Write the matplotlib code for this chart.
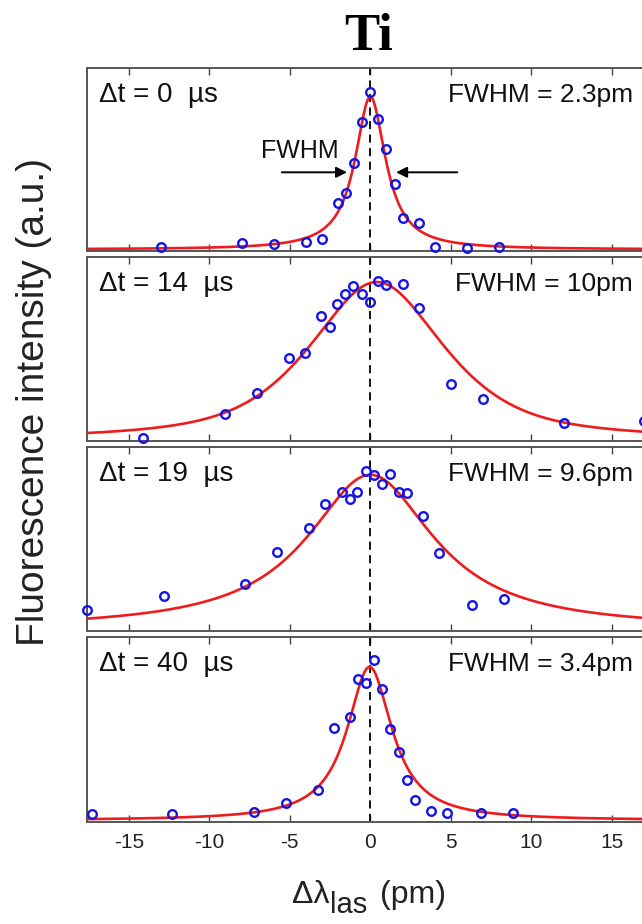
import numpy as np
import matplotlib
matplotlib.use("Agg")
import matplotlib.pyplot as plt

plt.rcParams['font.family'] = ['Liberation Sans', 'DejaVu Sans']

# ---- data ----
delays = ["0", "14", "19", "40"]
fwhm_labels = ["2.3", "10", "9.6", "3.4"]

p1_x = [-13, -8, -6, -4, -3, -2, -1.5, -1, -0.5, 0, 0.5, 1, 1.5, 2, 3, 4, 6, 8]
p1_y = [0.024, 0.042, 0.036, 0.049, 0.064, 0.264, 0.318, 0.482, 0.705, 0.869,
        0.724, 0.56, 0.367, 0.178, 0.151, 0.024, 0.018, 0.024]

p2_x = [-14.1, -9.05, -7.05, -5.05, -4.05, -3.05, -2.5, -2.05, -1.55, -1.05,
        -0.55, 0, 0.45, 1.0, 2.0, 3.0, 5.0, 7.0, 12.0, 17.0]
p2_y = [0.018, 0.145, 0.262, 0.45, 0.477, 0.678, 0.617, 0.745, 0.80, 0.841,
        0.80, 0.756, 0.868, 0.846, 0.854, 0.725, 0.311, 0.226, 0.099, 0.108]

p3_x = [-17.6, -12.8, -7.8, -5.8, -3.8, -2.8, -1.75, -1.25, -0.8, -0.25, 0.25,
        0.75, 1.25, 1.75, 2.25, 3.25, 4.25, 6.3, 8.3]
p3_y = [0.116, 0.189, 0.253, 0.431, 0.558, 0.691, 0.755, 0.716, 0.758, 0.871,
        0.849, 0.798, 0.855, 0.753, 0.749, 0.627, 0.422, 0.14, 0.176]

p4_x = [-17.3, -12.3, -7.25, -5.25, -3.25, -2.25, -1.25, -0.75, -0.25, 0.25,
        0.75, 1.25, 1.75, 2.25, 2.75, 3.75, 4.75, 6.85, 8.85]
p4_y = [0.045, 0.045, 0.054, 0.105, 0.175, 0.506, 0.566, 0.774, 0.754, 0.877,
        0.72, 0.503, 0.38, 0.226, 0.121, 0.058, 0.051, 0.049, 0.051]

# fitted line-shape parameters (centre, amplitude, offset, FWHM, Lorentz fraction)
fit_center = [0.0, 0.4, 0.0, -0.05]
fit_amp = [0.835, 0.864, 0.84, 0.83]
fit_base = [0.008, 0.0, 0.009, 0.008]
fit_fwhm = [2.3, 10.0, 9.6, 3.4]
fit_eta = [1.0, 0.7, 1.0, 1.0]

xs = [p1_x, p2_x, p3_x, p4_x]
ys = [p1_y, p2_y, p3_y, p4_y]
xticks = [-15, -10, -5, 0, 5, 10, 15]


def profile(x, c, a, b, w, eta):
    u = (x - c) / w
    lor = 1.0 / (1.0 + 4.0 * u ** 2)
    gau = np.exp(-4.0 * np.log(2.0) * u ** 2)
    return b + a * (eta * lor + (1.0 - eta) * gau)


W, H = 642, 924
fig = plt.figure(figsize=(W / 100, H / 100), dpi=100)

tops = [68, 257, 447, 637]
bots = [251, 441, 631, 822]
left_px = 87
xmin, xmax = -17.6, 17.6
px_per_unit = 16.1
width_px = (xmax - xmin) * px_per_unit

axes = []
for i in range(4):
    ax = fig.add_axes([left_px / W, 1 - bots[i] / H, width_px / W,
                       (bots[i] - tops[i]) / H])
    axes.append(ax)
    xx = np.linspace(xmin, xmax, 600)
    ax.plot(xx, profile(xx, fit_center[i], fit_amp[i], fit_base[i],
                        fit_fwhm[i], fit_eta[i]),
            color='#ee1c1c', lw=1.9, zorder=3, clip_on=True)
    ax.plot(xs[i], ys[i], 'o', mfc='none', mec='#1414e6', ms=6.2, mew=1.7,
            zorder=4, clip_on=False)
    ax.axvline(0, color='black', lw=1.3, ls=(0, (4.5, 3)), zorder=2)
    ax.set_xlim(xmin, xmax)
    ax.set_ylim(0, 1)
    ax.set_yticks([])
    ax.set_xticks(xticks)
    ax.tick_params(axis='x', direction='in', top=True, bottom=True,
                   length=5, width=1, color='#444444', labelsize=15,
                   labelcolor='#222222', pad=8)
    if i < 3:
        ax.tick_params(axis='x', labelbottom=False)
    else:
        ax.set_xticklabels([str(t) for t in xticks])
    for s in ax.spines.values():
        s.set_color('#555555')
        s.set_linewidth(1.4)
    ax.text(0.021, 0.855, "\u0394t = " + delays[i] + "  \u00b5s",
            transform=ax.transAxes, fontsize=20, ha='left', va='center',
            color='#111111')
    ax.text(0.963, 0.852, "FWHM = " + fwhm_labels[i] + "pm",
            transform=ax.transAxes, fontsize=19, ha='right', va='center',
            color='#111111')

# FWHM arrows in first panel
ax0 = axes[0]
ax0.text(-4.4, 0.545, "FWHM", fontsize=18, ha='center', va='center',
         color='#111111')
ax0.annotate("", xy=(-1.45, 0.43), xytext=(-5.5, 0.43),
             arrowprops=dict(arrowstyle='-|>', color='black', lw=1.4,
                             mutation_scale=16, shrinkA=0, shrinkB=0))
ax0.annotate("", xy=(1.6, 0.43), xytext=(5.4, 0.43),
             arrowprops=dict(arrowstyle='-|>', color='black', lw=1.4,
                             mutation_scale=16, shrinkA=0, shrinkB=0))

fig.text(369 / W, 1 - 50 / H, "Ti", fontsize=38, fontweight='bold',
         family='Liberation Serif', ha='center', va='baseline')
fig.text(34 / W, 1 - 402 / H, "Fluorescence intensity (a.u.)", fontsize=28,
         rotation=90, ha='center', va='center', color='#222222')

# x label: "Δλ" + subscript "las" + " (pm)"
ax_last = axes[3]
t1 = fig.text(292 / W, 1 - 903 / H, "\u0394\u03bb", fontsize=23,
              ha='left', va='baseline', color='#222222')
t2 = ax_last.annotate("las", xy=(1, 0), xycoords=t1, xytext=(0.5, -6.5),
                      textcoords='offset points', fontsize=21, ha='left',
                      va='bottom', color='#222222', annotation_clip=False)
t3 = ax_last.annotate("(pm)", xy=(1, 0), xycoords=(t2, t1), xytext=(9, 0),
                      textcoords='offset points', fontsize=23, ha='left',
                      va='bottom', color='#222222', annotation_clip=False)

fig.savefig("out.png", dpi=100)
